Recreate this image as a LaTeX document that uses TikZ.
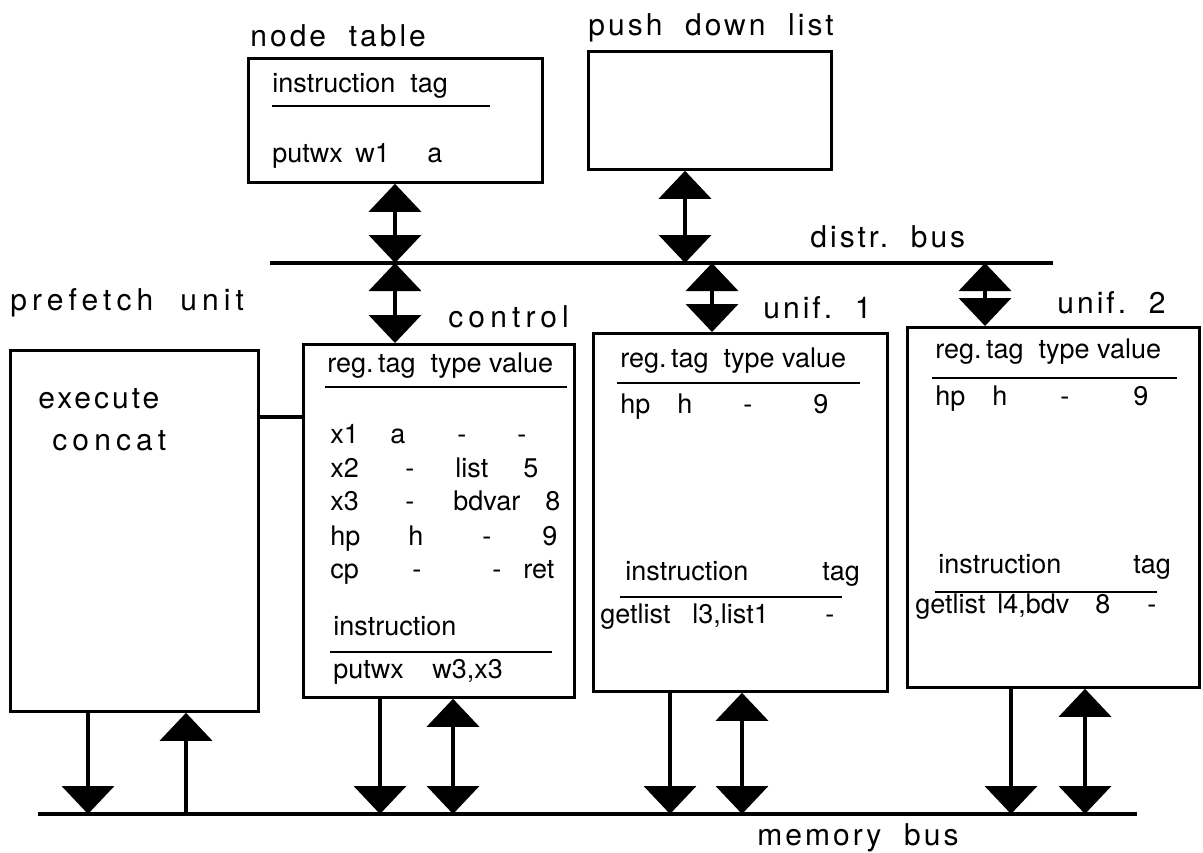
\documentclass[tikz,border=0pt]{standalone}
\usepackage{fontspec}
\setmainfont{TeX Gyre Heros}
\newfontfamily\tfont[LetterSpace=10]{TeX Gyre Heros}
\newfontfamily\wfont[LetterSpace=17]{TeX Gyre Heros}
\usetikzlibrary{arrows.meta}
\tikzset{
  box/.style={draw, line width=1.4pt, inner sep=0pt, anchor=north west},
  txt/.style={inner sep=0pt, anchor=base west, font=\fontsize{13.5}{16}\selectfont},
  ttl/.style={inner sep=0pt, anchor=base west, font=\tfont\fontsize{15}{18}\selectfont},
  wttl/.style={inner sep=0pt, anchor=base west, font=\wfont\fontsize{15}{18}\selectfont},
  sepline/.style={line width=1.4pt},
  bus/.style={line width=2.4pt},
  link/.style={line width=1.6pt},
  bi/.style={line width=2pt, {Triangle[width=26pt,length=14pt]}-{Triangle[width=26pt,length=14pt]}},
  one/.style={line width=2pt, -{Triangle[width=26pt,length=14pt]}},
}
\begin{document}
\begin{tikzpicture}[x=0.5pt,y=-0.5pt]
\useasboundingbox (0,0) rectangle (1203,852);

% boxes
\node[box, minimum width=147pt, minimum height=62pt] (nt) at (247,57) {};
\node[box, minimum width=121.5pt, minimum height=59pt] (pd) at (587,50) {};
\node[box, minimum width=124pt, minimum height=180.5pt] (pf) at (9,349) {};
\node[box, minimum width=135.5pt, minimum height=176.5pt] (ctrl) at (302,343) {};
\node[box, minimum width=147pt, minimum height=179pt] (u1) at (592,332) {};
\node[box, minimum width=146pt, minimum height=180pt] (u2) at (906,326) {};

% titles
\node[ttl] (tnt) at (250,46) {node\ \ table};
\node[ttl] (tpd) at (588,35) {push\ \ down\ \ list};
\node[ttl] (tdb) at (810,247) {distr.\ \ bus};
\node[wttl] (tpf) at (10,310) {prefetch\ \ unit};
\node[wttl] (tctrl) at (448,327) {control};
\node[ttl] (tu1) at (763,318) {unif.\ \ 1};
\node[ttl] (tu2) at (1057,313) {unif.\ \ 2};
\node[ttl] (tmb) at (757,845) {memory\ \ bus};
\node[ttl] (tex) at (38,408) {execute};
\node[wttl] (tcc) at (52,450) {concat};

% node table contents
\foreach \x/\y/\t [count=\i] in {272/92/instruction, 410/92/tag, 272/162/putwx, 355/162/w1, 427/162/a}
  \node[txt] (n\i) at (\x,\y) {\t};
\draw[sepline] (272,106) -- (490,106);

% control contents
\node[txt] (chead) at (327,372) {reg.\,tag\ \ type value};
\draw[sepline] (325,387) -- (567,387);
\foreach \x/\y/\t [count=\i] in {
  330/443/x1, 390/443/a, 457/443/-, 517/443/-,
  330/477/x2, 405/477/-, 455/477/list, 523/477/5,
  330/510/x3, 405/510/-, 453/510/bdvar, 545/510/8,
  330/545/hp, 408/545/h, 482/545/-, 542/545/9,
  330/578/cp, 412/578/-, 492/578/-, 523/578/ret,
  333/635/instruction, 333/678/putwx, 432/678/{w3,x3}}
  \node[txt] (c\i) at (\x,\y) {\t};
\draw[sepline] (330,652) -- (552,652);

% unif 1 contents
\node[txt] (u1head) at (620,367) {reg.\,tag\ \ type value};
\draw[sepline] (617,383) -- (860,383);
\foreach \x/\y/\t [count=\i] in {
  620/413/hp, 677/413/h, 743/413/-, 813/413/9,
  625/580/instruction, 822/580/tag,
  600/623/getlist, 692/623/{l3,list1}, 825/623/-}
  \node[txt] (p\i) at (\x,\y) {\t};
\draw[sepline] (620,597) -- (842,597);

% unif 2 contents
\node[txt] (u2head) at (935,358) {reg.\,tag\ \ type value};
\draw[sepline] (932,378) -- (1177,378);
\foreach \x/\y/\t [count=\i] in {
  935/405/hp, 992/405/h, 1060/405/-, 1133/405/9,
  938/573/instruction, 1133/573/tag,
  915/613/getlist, 997/613/{l4,bdv}, 1095/613/8, 1147/613/-}
  \node[txt] (q\i) at (\x,\y) {\t};
\draw[sepline] (935,592) -- (1157,592);

% buses
\coordinate (db1) at (270,263);
\coordinate (db2) at (1053,263);
\draw[bus] (db1) -- (db2);
\coordinate (mb1) at (38,814);
\coordinate (mb2) at (1137,814);
\draw[bus] (mb1) -- (mb2);

% distr bus taps
\coordinate (dA) at (395,263);
\coordinate (dB) at (685,263);
\coordinate (dC) at (712,263);
\coordinate (dD) at (985,263);
\draw[bi] (nt.south -| dA) -- (dA);
\draw[bi] (dA) -- (ctrl.north -| dA);
\draw[bi] (pd.south -| dB) -- (dB);
\draw[bi] (dC) -- (u1.north -| dC);
\draw[bi] (dD) -- (u2.north -| dD);

% prefetch to control link
\coordinate (ly) at (0,417);
\draw[link] (pf.east |- ly) -- (ctrl.west |- ly);

% memory bus taps
\coordinate (m1) at (88,814);
\coordinate (m2) at (186,814);
\coordinate (m3) at (380,814);
\coordinate (m4) at (453,814);
\coordinate (m5) at (670,814);
\coordinate (m6) at (742,814);
\coordinate (m7) at (1011,814);
\coordinate (m8) at (1085,814);
\draw[one] (pf.south -| m1) -- (m1);
\draw[one] (m2) -- (pf.south -| m2);
\draw[one] (ctrl.south -| m3) -- (m3);
\draw[bi] (ctrl.south -| m4) -- (m4);
\draw[one] (u1.south -| m5) -- (m5);
\draw[bi] (u1.south -| m6) -- (m6);
\draw[one] (u2.south -| m7) -- (m7);
\draw[bi] (u2.south -| m8) -- (m8);
\end{tikzpicture}
\end{document}
